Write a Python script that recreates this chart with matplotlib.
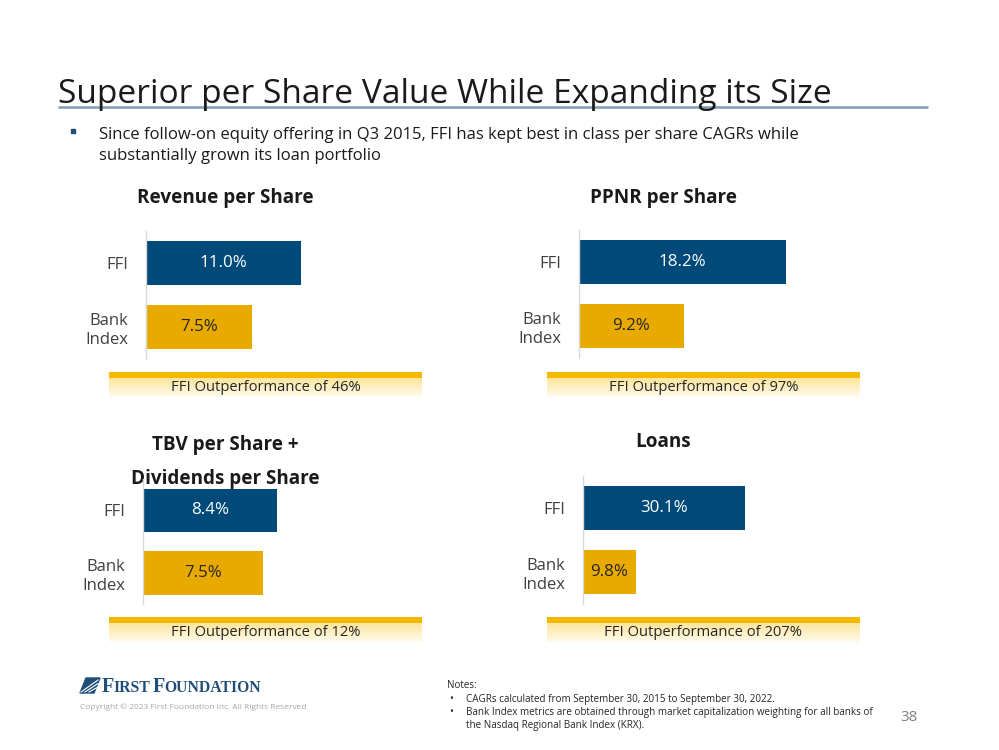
import numpy as np
import matplotlib
matplotlib.use('Agg')
from matplotlib import pyplot as plt
from matplotlib.patches import Rectangle, Polygon

# data
categories = ['FFI', 'Bank\nIndex']
panel_titles = ['Revenue per Share', 'PPNR per Share',
                'TBV per Share +\nDividends per Share', 'Loans']
ffi_cagr = [11.0, 18.2, 8.4, 30.1]
bank_cagr = [7.5, 9.2, 7.5, 9.8]
outperf = [46, 97, 12, 207]

BLUE = '#004a7a'
GOLD = '#e9aa00'
DARK = '#262626'
NAVY = '#1f4e79'
W, H = 999, 750

plt.rcParams['font.family'] = ['Open Sans', 'DejaVu Sans']

fig = plt.figure(figsize=(W / 100, H / 100), dpi=100)
fig.patch.set_facecolor('white')

# background layer in pixel coordinates
bg = fig.add_axes([0, 0, 1, 1])
bg.set_xlim(0, W)
bg.set_ylim(H, 0)
bg.axis('off')

# title + rule
bg.text(58, 103, 'Superior per Share Value While Expanding its Size',
        fontsize=24.1, color='#1a1a1a', va='baseline', ha='left')
bg.plot([58, 928], [106.5, 106.5], color='#7f9bb5', lw=1.8, solid_capstyle='butt')

# bullet
bg.add_patch(Rectangle((71, 129), 4, 4, color=NAVY))
bg.text(99, 139, 'Since follow-on equity offering in Q3 2015, FFI has kept best in class per share CAGRs while',
        fontsize=12, color='#1a1a1a', va='baseline')
bg.text(99, 160, 'substantially grown its loan portfolio',
        fontsize=12, color='#1a1a1a', va='baseline')

# panel layout: (axes left, axes right, FFI bar centre y, row spacing, xmax,
#                title centre x, title y, band left, band right, band top)
panels = [
    (146, 420, 263, 64, 19.4, 225, 197, 109, 422, 372),
    (579, 860, 262, 64, 24.65, 663, 197, 547, 860, 372),
    (143, 420, 510.5, 62.5, 17.3, 225, 461, 109, 422, 617),
    (583, 860, 508, 64, 51.6, 663, 441, 547, 860, 617),
]

grad = np.linspace(0, 1, 64).reshape(-1, 1)
top_c = np.array([252, 228, 150]) / 255.0
bot_c = np.array([255, 251, 238]) / 255.0
grad_img = top_c[None, None, :] * (1 - grad[:, :, None]) + bot_c[None, None, :] * grad[:, :, None]

for i, (l, r, cy, sp, xmax, tx, ty, bl, br, bt) in enumerate(panels):
    top = cy - sp / 2
    bot = cy + sp * 1.5
    ax = fig.add_axes([l / W, 1 - bot / H, (r - l) / W, (bot - top) / H])
    vals = [ffi_cagr[i], bank_cagr[i]]
    ax.barh([0, 1], vals, height=0.69, color=[BLUE, GOLD])
    ax.set_xlim(0, xmax)
    ax.set_ylim(1.5, -0.5)
    ax.set_yticks([0, 1])
    ax.set_yticklabels(categories, fontsize=12, color='#404040', linespacing=1.25)
    ax.tick_params(axis='y', length=0, pad=13)
    ax.set_xticks([])
    for s in ['top', 'right', 'bottom']:
        ax.spines[s].set_visible(False)
    ax.spines['left'].set_color('#d9d9d9')
    ax.spines['left'].set_linewidth(1)
    ax.patch.set_alpha(0)
    for j, v in enumerate(vals):
        ax.text(v / 2, j, '%.1f%%' % v, ha='center', va='center', fontsize=12.2,
                color='white' if j == 0 else DARK)

    # panel title
    bg.text(tx, ty + 1, panel_titles[i], ha='center', va='center', fontsize=13.6,
            fontweight='bold', color='#1a1a1a', linespacing=1.95)

    # outperformance band
    bg.imshow(grad_img, extent=(bl, br, bt + 25, bt + 5), aspect='auto', zorder=1)
    bg.add_patch(Rectangle((bl, bt), br - bl, 5.5, color='#f5b800', zorder=2, lw=0))
    bg.text((bl + br) / 2, bt + 15.5, 'FFI Outperformance of %d%%' % outperf[i],
            ha='center', va='center', fontsize=10.6, color=DARK, zorder=3)

bg.set_xlim(0, W)
bg.set_ylim(H, 0)

# logo
bg.add_patch(Polygon([[86, 678], [100, 678], [94, 693], [80, 693]], closed=True, color=NAVY))
for k in range(3):
    bg.plot([81 + k * 4, 98], [692, 680 + k * 3.5], color='white', lw=0.8)

renderer = fig.canvas.get_renderer()
inv = bg.transData.inverted()
x = 102
for part, fs in [('F', 14.5), ('IRST', 11.3), (' ', 6), ('F', 14.5), ('OUNDATION', 11.3)]:
    t = bg.text(x, 692.5, part, fontsize=fs, family='Liberation Serif', fontweight='bold',
                color=NAVY, va='baseline')
    ext = t.get_window_extent(renderer)
    x = inv.transform((ext.x1, ext.y0))[0] - 0.3

bg.text(80, 709, 'Copyright \u00a9 2023 First Foundation Inc. All Rights Reserved',
        fontsize=6, color='#a6a6a6', va='baseline')

# notes
nfs = 7.1
bg.text(447, 688, 'Notes:', fontsize=nfs, color=DARK, va='baseline')
bg.text(449, 702, '\u2022', fontsize=nfs, color=DARK, va='baseline')
bg.text(466, 702, 'CAGRs calculated from September 30, 2015 to September 30, 2022.',
        fontsize=nfs, color=DARK, va='baseline')
bg.text(449, 715, '\u2022', fontsize=nfs, color=DARK, va='baseline')
bg.text(466, 715, 'Bank Index metrics are obtained through market capitalization weighting for all banks of',
        fontsize=nfs, color=DARK, va='baseline')
bg.text(466, 728, 'the Nasdaq Regional Bank Index (KRX).', fontsize=nfs, color=DARK, va='baseline')
bg.text(918, 721, '38', fontsize=11, color='#7f7f7f', va='baseline', ha='right')

fig.savefig('out.png', dpi=100, facecolor='white')
